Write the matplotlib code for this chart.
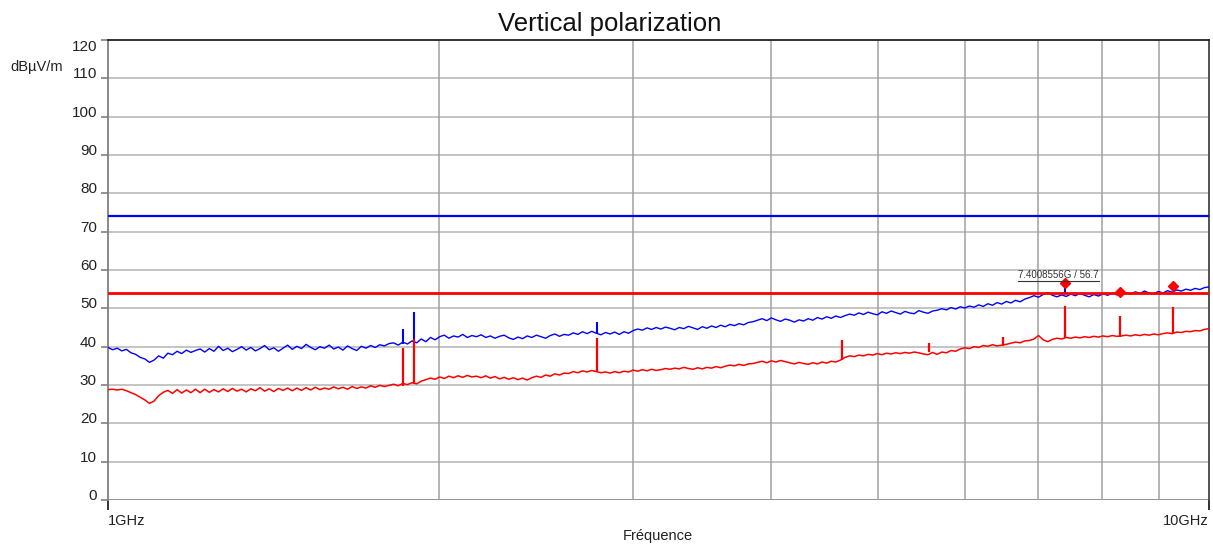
import numpy as np
import matplotlib
matplotlib.use('Agg')
import matplotlib.pyplot as plt
from matplotlib.lines import Line2D

plt.rcParams['font.family'] = ['Liberation Sans', 'DejaVu Sans']

# sweep 1 GHz .. 10 GHz, 240 points
freq_ghz = np.geomspace(1.0, 10.0, 240)

# peak detector trace (dBuV/m)
peak_level = [
    39.8, 39.2, 39.6, 38.9, 39.3, 38.4, 38.0, 37.2, 36.8, 35.9, 36.5, 37.6, 37.0, 38.3, 37.9, 38.8, 38.2, 39.1, 38.5, 39.0,
    39.4, 38.6, 39.5, 38.8, 40.1, 39.0, 39.6, 38.7, 39.3, 40.0, 39.1, 39.8, 38.9, 39.5, 40.3, 39.2, 39.7, 38.8, 39.6, 40.4,
    39.3, 40.1, 39.5, 40.6, 39.8, 39.2, 40.0, 39.6, 40.4, 39.4, 39.9, 39.1, 40.2, 39.5, 39.0, 40.1, 39.6, 40.3, 39.8, 40.5,
    40.2, 40.8, 41.0, 40.4, 41.2, 40.7, 41.5, 41.0, 42.0, 41.3, 42.4, 41.8, 42.6, 43.0, 42.2, 42.8, 42.5, 43.2, 42.4, 42.9,
    42.6, 43.1, 42.4, 42.8, 42.2, 42.7, 43.0, 42.3, 41.9, 42.5, 42.1, 42.8, 42.4, 43.0, 42.6, 42.2, 42.9, 43.3, 42.7, 43.2,
    43.0, 43.6, 43.2, 43.9, 43.4, 44.0, 43.5, 43.1, 43.7, 43.3, 43.8, 43.2, 43.9, 43.5, 44.2, 44.6, 44.3, 44.9, 44.5, 45.0,
    44.6, 45.1, 44.8, 44.4, 45.0, 44.7, 45.3, 44.9, 44.5, 45.2, 44.8, 45.4, 45.0, 45.6, 45.2, 45.8, 45.5, 46.0, 45.7, 46.3,
    46.5, 46.9, 47.3, 46.8, 47.5, 47.0, 46.6, 47.2, 46.9, 46.4, 47.0, 46.7, 47.3, 46.9, 47.6, 47.2, 47.8, 47.4, 48.0, 47.6,
    48.1, 48.5, 48.2, 48.8, 48.4, 49.0, 48.6, 48.3, 49.1, 48.7, 49.3, 48.9, 48.5, 49.2, 48.8, 48.6, 49.4, 49.0, 48.7, 49.3,
    49.5, 49.9, 49.6, 50.2, 49.8, 50.4, 50.1, 50.6, 50.3, 50.9, 50.5, 51.2, 50.8, 51.5, 51.1, 51.8, 51.4, 52.1, 51.7, 52.4,
    52.8, 53.3, 52.9, 53.6, 54.1, 53.4, 53.0, 53.5, 53.1, 53.7, 53.3, 53.9, 53.4, 53.0, 53.6, 53.2, 53.8, 53.4, 54.0, 53.5,
    53.6, 54.1, 53.7, 54.3, 53.9, 54.5, 54.0, 53.8, 54.4, 54.0, 54.6, 54.2, 54.8, 54.5, 55.0, 54.7, 55.2, 54.9, 55.4, 55.6,
]

# average detector trace (dBuV/m)
avg_level = [
    28.8, 28.9, 28.7, 28.9, 28.5, 28.0, 27.5, 26.8, 26.1, 25.2, 25.8, 27.2, 28.1, 28.6, 27.8, 28.8, 27.9, 28.7, 28.0, 28.9,
    28.0, 28.9, 28.1, 28.8, 28.2, 29.0, 28.3, 29.1, 28.4, 28.9, 28.2, 29.0, 28.5, 29.3, 28.4, 29.0, 28.3, 29.1, 28.6, 29.2,
    28.5, 29.2, 28.6, 29.3, 28.7, 29.4, 28.8, 29.2, 28.9, 29.5, 29.0, 29.4, 28.9, 29.6, 29.1, 29.5, 29.2, 29.8, 29.4, 29.9,
    29.6, 29.9, 30.2, 29.8, 30.4, 30.1, 30.6, 30.3, 31.0, 31.4, 31.8, 31.5, 32.1, 31.7, 32.3, 31.9, 32.4, 32.0, 32.5, 32.1,
    32.3, 31.9, 32.4, 31.8, 32.2, 31.6, 32.0, 31.5, 31.9, 31.4, 31.8, 31.3, 31.9, 32.3, 32.0, 32.6, 32.3, 32.9, 32.6, 33.1,
    33.0, 33.5, 33.2, 33.7, 33.4, 33.8, 33.5, 33.2, 33.4, 33.1, 33.5, 33.2, 33.6, 33.4, 33.9, 33.6, 34.0, 33.7, 34.1, 33.8,
    34.0, 34.3, 34.1, 34.4, 34.2, 34.6, 34.3, 34.1, 34.5, 34.2, 34.6, 34.4, 34.8, 34.5, 34.9, 35.2, 35.0, 35.4, 35.1, 35.5,
    35.6, 35.9, 36.2, 35.8, 36.3, 36.0, 36.4, 36.1, 35.8, 35.5, 35.9, 35.6, 35.4, 35.8, 35.5, 36.0, 35.7, 36.2, 36.0, 36.5,
    37.2, 37.6, 37.4, 37.8, 37.6, 38.0, 37.8, 38.2, 37.9, 38.3, 38.1, 38.4, 38.2, 38.5, 38.3, 38.6, 38.4, 38.1, 37.9, 38.5,
    38.0, 38.6, 38.4, 39.0, 38.8, 39.4, 39.7, 39.5, 40.0, 39.8, 40.3, 40.1, 40.5, 40.2, 40.4, 40.6, 40.9, 41.2, 41.0, 41.5,
    41.6, 42.0, 42.9, 41.8, 41.3, 41.9, 42.2, 42.0, 42.4, 42.2, 42.5, 42.3, 42.6, 42.4, 42.7, 42.5, 42.8, 42.6, 42.9, 42.7,
    42.8, 43.0, 42.8, 43.1, 42.9, 43.2, 43.0, 43.3, 43.1, 43.4, 43.6, 43.4, 43.8, 43.7, 44.0, 43.9, 44.2, 44.1, 44.5, 44.7,
]

# narrow emissions on top of the traces
peak_spike_freq = [1.853, 1.897, 2.78, 7.4008556]
peak_spike_base = [40.8, 41.0, 43.3, 53.8]
peak_spike_top = [44.6, 49.0, 46.4, 56.7]

avg_spike_freq = [1.853, 1.897, 2.78, 4.64, 5.57, 6.50, 7.4008556, 8.30, 9.28]
avg_spike_base = [29.8, 30.3, 33.3, 36.5, 38.5, 40.3, 42.3, 42.6, 43.2]
avg_spike_top = [39.7, 42.0, 42.3, 41.7, 41.0, 42.5, 50.6, 48.0, 50.4]

# limits
peak_limit = 74
avg_limit = 54

# peak markers
marker_freq = [7.4008556, 8.30, 9.28]
marker_level = [56.7, 54.3, 55.8]

BLUE = '#0000ff'
RED = '#ff0000'

fig = plt.figure(figsize=(12.13, 5.45), dpi=100)
ax = fig.add_axes([108 / 1213, 45 / 545, 1101 / 1213, 460 / 545])

ax.set_xscale('log')
ax.set_xlim(1.0, 10.0)
ax.set_ylim(0, 120)

# grid
ax.set_yticks(np.arange(0, 121, 10))
for v in range(10, 120, 10):
    ax.axhline(v, color='#b4b4b4', lw=1.1, zorder=1)
ax.axhline(0, color='#808080', lw=1.2, zorder=1)
for f in range(2, 10):
    ax.axvline(f, color='#a0a0a0', lw=1.1, zorder=1)

# traces
ax.plot(freq_ghz, peak_level, color=BLUE, lw=1.0, zorder=3)
ax.plot(freq_ghz, avg_level, color=RED, lw=1.1, zorder=3)
ax.vlines(peak_spike_freq, peak_spike_base, peak_spike_top, color=BLUE, lw=1.5, zorder=3)
ax.vlines(avg_spike_freq, avg_spike_base, avg_spike_top, color=RED, lw=1.6, zorder=3)

# limit lines
ax.axhline(peak_limit, color=BLUE, lw=1.6, zorder=4)
ax.axhline(avg_limit, color=RED, lw=2.0, zorder=4)

ax.plot(marker_freq, marker_level, ls='none', marker='D', ms=5.5, color=RED, zorder=5)
lbl = ax.text(6.71, 58.0, f'{marker_freq[0]}G / {marker_level[0]}', fontsize=7,
              color='#333333', ha='left', va='baseline', zorder=5)

# spines
ax.spines['left'].set_color('#808080')
ax.spines['left'].set_linewidth(1.3)
ax.spines['top'].set_color('#222222')
ax.spines['top'].set_linewidth(1.3)
ax.spines['right'].set_color('#444444')
ax.spines['right'].set_linewidth(1.3)
ax.spines['bottom'].set_visible(False)

# y ticks
ax.tick_params(axis='y', direction='out', length=5, width=1.2, color='#808080',
               labelsize=11, labelcolor='#222222', pad=3)
for t in ax.get_yticklabels():
    t.set_va('baseline')
ax.get_yticklabels()[-1].set_va('top')

# x ticks: only the decade ends
ax.xaxis.set_minor_locator(matplotlib.ticker.NullLocator())
ax.set_xticks([1.0, 10.0])
ax.set_xticklabels(['1GHz', '10GHz'])
ax.tick_params(axis='x', direction='out', length=7, width=1.2, color='#111111',
               labelsize=10.5, labelcolor='#222222', pad=3)
xl = ax.get_xticklabels()
xl[0].set_ha('left')
xl[1].set_ha('right')

fig.text(0.503, 1 - 24 / 545, 'Vertical polarization', fontsize=18.5,
         ha='center', va='center', color='#111111')
fig.text(37 / 1213, 1 - 67 / 545, 'dBµV/m', fontsize=10.5,
         ha='center', va='center', color='#222222')
fig.text(658 / 1213, 1 - 536 / 545, 'Fréquence', fontsize=10.5,
         ha='center', va='center', color='#222222')

# underline the marker readout
fig.canvas.draw()
bb = lbl.get_window_extent()
fig.add_artist(Line2D([bb.x0, bb.x1], [bb.y0 - 1.5, bb.y0 - 1.5], transform=None,
                      color='#333333', lw=0.8))

fig.savefig('out.png', dpi=100)
plt.close(fig)
